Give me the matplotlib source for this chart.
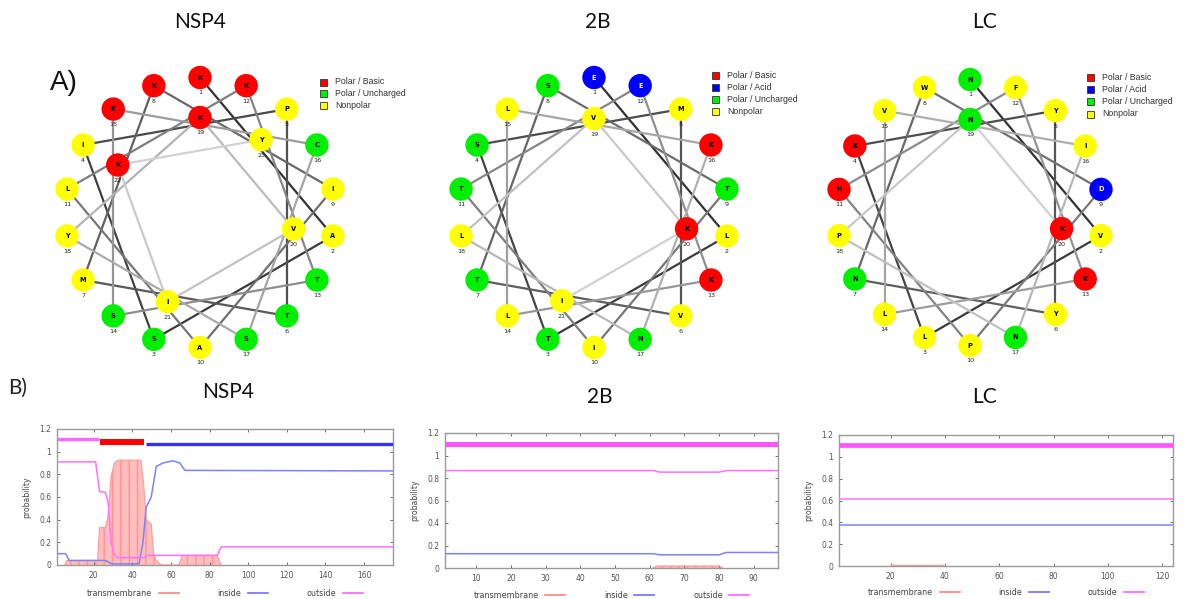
import numpy as np
import matplotlib
matplotlib.use("Agg")
import matplotlib.pyplot as plt
from matplotlib.patches import Circle, Rectangle
from matplotlib.lines import Line2D

W, H = 1191, 599

# ---------------- data ----------------
nsp4_seq = list("KASIPTMKIALKTSKCSYKVIKY")
b2_seq = list("ELTSMVTSTITEKLLKNLVKI")
lc_seq = list("NVLKYYNWDPHFKLVINPNK")

class_basic = set("KRH")
class_acid = set("DE")
class_polar = set("STNQCG")
class_colors = {"basic": "#ff0000", "acid": "#0000ff", "polar": "#00ee00", "nonpolar": "#ffff00"}

wheel_titles = ["NSP4", "2B", "LC"]
legend_nsp4 = ["Polar / Basic", "Polar / Uncharged", "Nonpolar"]
legend_full = ["Polar / Basic", "Polar / Acid", "Polar / Uncharged", "Nonpolar"]

# TMHMM probability profiles (breakpoints)
nsp4_len = 175
nsp4_out_x = [1, 21, 23, 26, 27.5, 29, 30.7, 32.5, 46, 48, 84, 86, 175]
nsp4_out_y = [0.91, 0.91, 0.65, 0.64, 0.55, 0.2, 0.09, 0.065, 0.065, 0.085, 0.085, 0.16, 0.16]
nsp4_in_x = [1, 5.5, 7.3, 26, 29.5, 43.5, 45.5, 47.2, 49.8, 52.4, 55.9, 61, 64.6, 67.2, 175]
nsp4_in_y = [0.1, 0.1, 0.04, 0.04, 0.01, 0.01, 0.2, 0.51, 0.6, 0.87, 0.9, 0.92, 0.9, 0.835, 0.83]
nsp4_tm_x = [5, 6, 22, 23, 26, 27.3, 29, 30.7, 32.5, 44.5, 45.8, 47.2, 49.8, 51, 52.4, 55, 64, 66, 84, 86]
nsp4_tm_y = [0.0, 0.04, 0.04, 0.33, 0.33, 0.42, 0.78, 0.9, 0.925, 0.925, 0.73, 0.4, 0.36, 0.1, 0.04, 0.0, 0.0, 0.085, 0.085, 0.0]
nsp4_bar_out = (1, 22.6)
nsp4_bar_tm = (23.3, 45.8)
nsp4_bar_in = (46.9, 175)

b2_len = 97
b2_out_x = [1, 61, 63, 80, 82, 97]
b2_out_y = [0.866, 0.866, 0.852, 0.852, 0.866, 0.866]
b2_in_x = [1, 61, 63, 80, 82, 97]
b2_in_y = [0.127, 0.127, 0.117, 0.117, 0.138, 0.138]
b2_tm_x = [61, 62, 80, 81]
b2_tm_y = [0.0, 0.018, 0.018, 0.0]

lc_len = 124
lc_out_x = [1, 124]
lc_out_y = [0.617, 0.617]
lc_in_x = [1, 124]
lc_in_y = [0.38, 0.38]
lc_tm_x = [20, 21, 39, 40]
lc_tm_y = [0.0, 0.006, 0.006, 0.0]

plot_titles = ["NSP4", "2B", "LC"]
legend_labels = ["transmembrane", "inside", "outside"]

# ---------------- figure ----------------
fig = plt.figure(figsize=(W / 100, H / 100), dpi=100)
fig.patch.set_facecolor("white")

ov = fig.add_axes([0, 0, 1, 1])
ov.set_xlim(0, W)
ov.set_ylim(H, 0)
ov.axis("off")
ov.patch.set_alpha(0)


def res_class(a):
    if a in class_basic:
        return "basic"
    if a in class_acid:
        return "acid"
    if a in class_polar:
        return "polar"
    return "nonpolar"


def draw_wheel(seq, cx, cy, R, Rin, rc=11.7):
    n = len(seq)
    pts = []
    for k in range(n):
        ang = np.deg2rad(100 * k)
        r = R if k < 18 else Rin
        pts.append((cx + r * np.sin(ang), cy - r * np.cos(ang)))
    for k in range(n - 1):
        g = 0.2 + 0.62 * k / max(n - 2, 1)
        ov.plot([pts[k][0], pts[k + 1][0]], [pts[k][1], pts[k + 1][1]],
                color=(g, g, g), lw=1.6, zorder=2, solid_capstyle="round")
    for k, a in enumerate(seq):
        c = res_class(a)
        ov.add_patch(Circle(pts[k], rc, facecolor=class_colors[c], edgecolor="none", zorder=3))
        ov.text(pts[k][0], pts[k][1], a, ha="center", va="center", fontsize=4.8,
                fontweight="bold", color="white" if c == "acid" else "black",
                family="DejaVu Sans", zorder=4)
        ov.text(pts[k][0], pts[k][1] + 15.5, str(k + 1), ha="center", va="center",
                fontsize=4.6, color="#222222", family="DejaVu Sans", zorder=4)


def draw_legend(labels, x, ys):
    keymap = {"Polar / Basic": "basic", "Polar / Acid": "acid",
              "Polar / Uncharged": "polar", "Nonpolar": "nonpolar"}
    for lab, y in zip(labels, ys):
        ov.add_patch(Rectangle((x - 3.5, y - 3.5), 7, 7, facecolor=class_colors[keymap[lab]],
                               edgecolor="#333333", lw=0.6, zorder=4))
        ov.text(x + 12, y, lab, ha="left", va="center", fontsize=6.3, color="#333333",
                family="Liberation Sans", zorder=4)


draw_wheel(nsp4_seq, 200, 212.5, 135, 95)
draw_wheel(b2_seq, 594, 212.5, 135, 94)
draw_wheel(lc_seq, 970, 212.5, 133, 93)
draw_legend(legend_nsp4, 323, [82, 93.5, 105])
draw_legend(legend_full, 715, [75, 87, 99.3, 111.5])
draw_legend(legend_full, 1090, [77.3, 89.3, 101.7, 114])

for t, x in zip(wheel_titles, [200, 598, 985]):
    ov.text(x, 22, t, ha="center", va="center", fontsize=15, family="Lato", color="#111111")
ov.text(50, 83, "A)", ha="left", va="center", fontsize=20, family="Liberation Sans", color="#111111")
ov.text(8, 388, "B)", ha="left", va="center", fontsize=15, family="Lato", color="#222222")
for t, x, y in zip(plot_titles, [228, 600, 985], [392, 397, 397]):
    ov.text(x, y, t, ha="center", va="center", fontsize=15, family="Lato", color="#111111")


# ---------------- TMHMM plots ----------------
def px_rect(l, t, r, b):
    return [l / W, 1 - b / H, (r - l) / W, (b - t) / H]


def tm_plot(rect, length, xticks, out_x, out_y, in_x, in_y, tm_x, tm_y, bars, legend_y, colsp):
    ax = fig.add_axes(px_rect(*rect))
    ax.set_xlim(1, length)
    ax.set_ylim(0, 1.2)
    ax.fill_between(tm_x, 0, tm_y, facecolor="#ffbdbd", edgecolor="#ff9494",
                    hatch="||", lw=0.0, zorder=1)
    ax.plot(tm_x, tm_y, color="#ff9a9a", lw=0.8, zorder=2)
    ax.plot(in_x, in_y, color="#8080ff", lw=1.1, zorder=3)
    ax.plot(out_x, out_y, color="#ff70ff", lw=1.1, zorder=3)
    for (x0, x1), yv, col, lw in bars:
        ax.plot([x0, x1], [yv, yv], color=col, lw=lw, solid_capstyle="butt", zorder=4)
    ax.set_xticks(xticks)
    ax.set_xticklabels([str(v) for v in xticks])
    ax.set_yticks([0, 0.2, 0.4, 0.6, 0.8, 1.0, 1.2])
    ax.set_yticklabels(["0", "0.2", "0.4", "0.6", "0.8", "1", "1.2"])
    ax.tick_params(direction="in", length=2.5, width=0.6, colors="#555555", labelsize=5.5,
                   top=True, right=True, pad=4)
    for s in ax.spines.values():
        s.set_color("#9a9a9a")
        s.set_linewidth(1.0)
    ax.set_ylabel("probability", fontsize=5.5, color="#444444", labelpad=6)
    handles = [Line2D([], [], color="#ff8080", lw=1.2),
               Line2D([], [], color="#7070ff", lw=1.2),
               Line2D([], [], color="#ff60ff", lw=1.2)]
    leg = ax.legend(handles, legend_labels, ncol=3, markerfirst=False, frameon=False,
                    loc="center", bbox_to_anchor=(0.5, legend_y), fontsize=5.8,
                    handlelength=2.5, handletextpad=0.8, columnspacing=colsp)
    for tx in leg.get_texts():
        tx.set_color("#444444")
    return ax


tm_plot((57, 429, 393, 565), nsp4_len, [20, 40, 60, 80, 100, 120, 140, 160],
        nsp4_out_x, nsp4_out_y, nsp4_in_x, nsp4_in_y, nsp4_tm_x, nsp4_tm_y,
        [(nsp4_bar_out, 1.112, "#ff66ff", 2.4), (nsp4_bar_tm, 1.088, "#ff0000", 4.3),
         (nsp4_bar_in, 1.068, "#3030ff", 2.4)], -0.21, 4.8)
tm_plot((445, 433, 778, 568), b2_len, [10, 20, 30, 40, 50, 60, 70, 80, 90],
        b2_out_x, b2_out_y, b2_in_x, b2_in_y, b2_tm_x, b2_tm_y,
        [((1, b2_len), 1.105, "#ff55ff", 3.6)], -0.2, 4.8)
tm_plot((839, 435, 1173, 566), lc_len, [20, 40, 60, 80, 100, 120],
        lc_out_x, lc_out_y, lc_in_x, lc_in_y, lc_tm_x, lc_tm_y,
        [((1, lc_len), 1.108, "#ff55ff", 3.4)], -0.2, 4.8)

fig.savefig("out.png", dpi=100, facecolor="white")
